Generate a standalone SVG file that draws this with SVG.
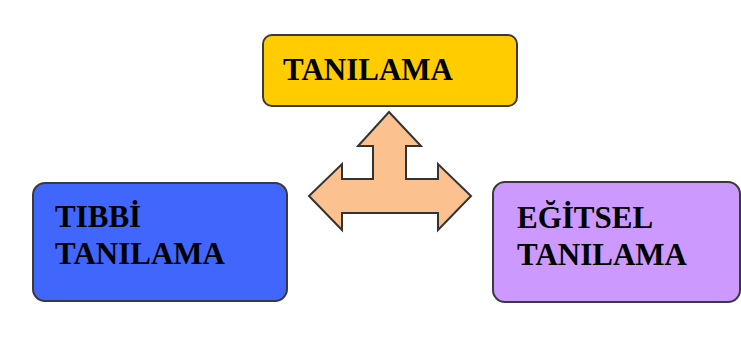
<svg xmlns="http://www.w3.org/2000/svg" width="741" height="358" viewBox="0 0 741 358">
<style>
.box{stroke:#3a3a3a;stroke-width:2}
.lbl{font-family:"Liberation Serif","Times New Roman",serif;font-weight:bold;font-size:31px;fill:#000}
</style>
<rect width="741" height="358" fill="#ffffff"/>
<g id="connectors">
<polygon points="389,112 421,146 406,146 406,179 438,179 438,164 471,196 438,230 438,213 342,213 342,230 309,196 342,164 342,179 373,179 373,146 358,146" fill="#FBC18F" stroke="#333" stroke-width="2" stroke-linejoin="miter"/>
</g>
<g id="tanilama">
<rect class="box" x="263" y="35" width="254" height="71" rx="9" fill="#FFCC00" stroke="#5a4a1a"/>
<text class="lbl" x="283" y="80">TANILAMA</text>
</g>
<g id="tibbi">
<rect class="box" x="33" y="183" width="254" height="118" rx="12" fill="#4166FB"/>
<text class="lbl" x="55" y="227">TIBBİ</text>
<text class="lbl" x="55" y="264">TANILAMA</text>
</g>
<g id="egitsel">
<rect class="box" x="493" y="182" width="247" height="120" rx="12" fill="#CC99FF"/>
<text class="lbl" x="517" y="228">EĞİTSEL</text>
<text class="lbl" x="517" y="265">TANILAMA</text>
</g>
</svg>
